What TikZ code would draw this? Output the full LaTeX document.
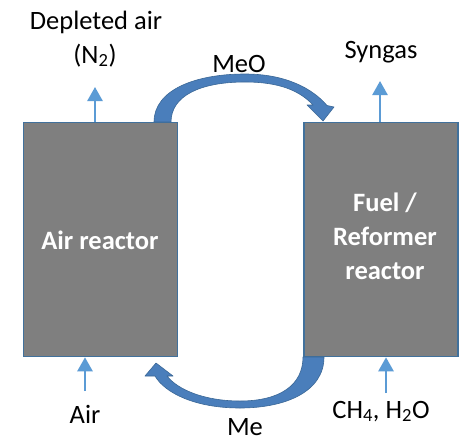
\documentclass[tikz,border=0pt]{standalone}
\usepackage{fontspec}
\setmainfont{Carlito}
\usetikzlibrary{arrows.meta}
\definecolor{boxgray}{HTML}{7F7F7F}
\definecolor{boxedge}{HTML}{41719C}
\definecolor{lightarrow}{HTML}{5B9BD5}
\definecolor{bigfill}{HTML}{4A7EBB}
\definecolor{bigedge}{HTML}{3A6796}
\begin{document}
\begin{tikzpicture}[x=1pt,y=-1pt,
 reactor/.style={draw=boxedge, line width=1.6pt, fill=boxgray, minimum width=154pt, minimum height=234pt, inner sep=0pt},
 lbl/.style={font=\fontsize{26.5}{31}\selectfont, inner sep=0pt, anchor=base},
 inlbl/.style={font=\fontsize{26.5}{34}\selectfont\bfseries, text=white, inner sep=0pt, align=center},
 sarrow/.style={draw=lightarrow, line width=2.5pt, -{Triangle[width=15pt,length=14pt]}},
 bigarrow/.style={fill=bigfill, draw=bigedge, line width=0.6pt, line join=round}]
\useasboundingbox (0,0) rectangle (462,447);
\fill[white] (0,0) rectangle (462,447);

% reactors
\node[reactor] (air) at (100.5,239.5) {};
\node[reactor] (fuel) at (381,239.5) {};
\node[inlbl] (airtxt) at (100,240) {Air reactor};
\node[inlbl] (fueltxt) at (385,236) {Fuel /\\Reformer\\reactor};

% labels
\node[lbl] (dep) at (96,29) {Depleted air};
\node[lbl] (n2) at (95,63) {(N\textsubscript{2})};
\node[lbl] (syn) at (381,58) {Syngas};
\node[lbl] (meo) at (239,72) {MeO};
\node[lbl] (airlbl) at (85,423) {Air};
\node[lbl] (me) at (245,435) {Me};
\node[lbl] (feed) at (381,418) {CH\textsubscript{4}, H\textsubscript{2}O};

% small arrows
\coordinate (depend) at (95,87);
\coordinate (synend) at (380,81);
\coordinate (airstart) at (85,391);
\coordinate (feedstart) at (386,393);
\draw[sarrow] (depend |- air.north) -- (depend);
\draw[sarrow] (synend |- fuel.north) -- (synend);
\draw[sarrow] (airstart) -- (airstart |- air.south);
\draw[sarrow] (feedstart) -- (feedstart |- fuel.south);

% MeO curved arrow (air reactor -> fuel reactor)
\draw[bigarrow] (154,122) .. controls (154,90) and (195,74) .. (245,74)
  .. controls (285,74) and (312,88) .. (327,105.5)
  -- (334,107) -- (323,121) -- (307,105) -- (313,105)
  .. controls (300,91) and (280,82) .. (245,82)
  .. controls (200,82) and (171,96) .. (171,122) -- cycle;

% Me curved arrow (fuel reactor -> air reactor)
\draw[bigarrow] (324,357) .. controls (324,392) and (285,408) .. (240,408)
  .. controls (195,408) and (165,393) .. (155,376)
  -- (145,376) -- (156,363) -- (173,376) -- (167,376)
  .. controls (178,390) and (205,401) .. (240,401)
  .. controls (280,401) and (303,385) .. (303,357) -- cycle;
\end{tikzpicture}
\end{document}
